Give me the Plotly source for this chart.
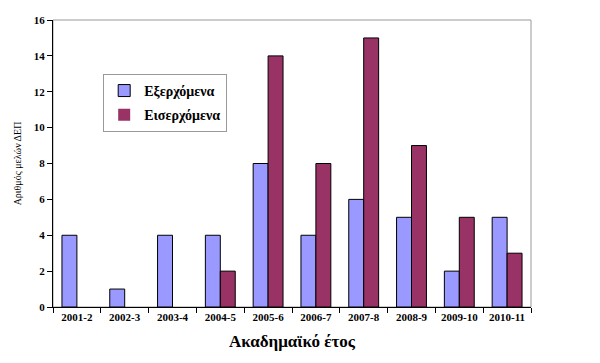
import plotly.graph_objects as go

years = ["2001-2", "2002-3", "2003-4", "2004-5", "2005-6", "2006-7", "2007-8", "2008-9", "2009-10", "2010-11"]
outgoing = [4, 1, 4, 4, 8, 4, 6, 5, 2, 5]
incoming = [0, 0, 0, 2, 14, 8, 15, 9, 5, 3]
series_names = ["Εξερχόμενα", "Εισερχόμενα"]
y_title = "Αριθμός μελών ΔΕΠ"
x_title = "Ακαδημαϊκό έτος"

serif = "Liberation Serif, Times New Roman, serif"

def outline(vals):
    return [1 if v else 0 for v in vals]

fig = go.Figure()
fig.add_trace(go.Bar(x=years, y=outgoing, name="<b>" + series_names[0] + "</b>", legendgroup="a",
                     marker=dict(color="#9999FF", line=dict(color="black", width=outline(outgoing)))))
fig.add_trace(go.Bar(x=years, y=incoming, name="<b>" + series_names[1] + "</b>", legendgroup="b",
                     marker=dict(color="#993366", line=dict(color="black", width=outline(incoming)))))

# the page body has an 8px margin, so the figure is 8px smaller and margins shifted
fig.update_layout(
    width=592, height=355,
    margin=dict(l=45, r=69, t=12, b=56, autoexpand=False),
    paper_bgcolor="white", plot_bgcolor="white",
    barmode="group", bargap=0.375, bargroupgap=0,
    font=dict(family=serif, color="black"),
    legend=dict(x=0.105, y=0.812, xanchor="left", yanchor="top",
                bordercolor="#999999", borderwidth=1, bgcolor="white",
                font=dict(family=serif, size=14), itemwidth=30,
                traceorder="grouped", tracegroupgap=3),
    shapes=[dict(type="rect", xref="paper", yref="paper", x0=0, x1=1, y0=0, y1=1,
                 line=dict(color="#999999", width=1), layer="below")],
)
fig.update_xaxes(
    type="category", automargin=False,
    showline=True, linecolor="black", linewidth=1,
    ticks="outside", tickson="boundaries", ticklen=5, tickcolor="black",
    tickvals=years, ticktext=["<b>" + y + "</b>" for y in years],
    tickfont=dict(family=serif, size=11),
    title=dict(text="<b>" + x_title + "</b>", font=dict(family=serif, size=17), standoff=12),
    showgrid=False,
)
fig.update_yaxes(
    range=[0, 16], dtick=2, automargin=False,
    showline=True, linecolor="black", linewidth=1,
    ticks="outside", ticklen=5, tickcolor="black",
    tickfont=dict(family=serif, size=11, weight="bold"),
    title=dict(text=y_title, font=dict(family=serif, size=10), standoff=10),
    showgrid=False, zeroline=False,
)

fig.write_html("out.html")
